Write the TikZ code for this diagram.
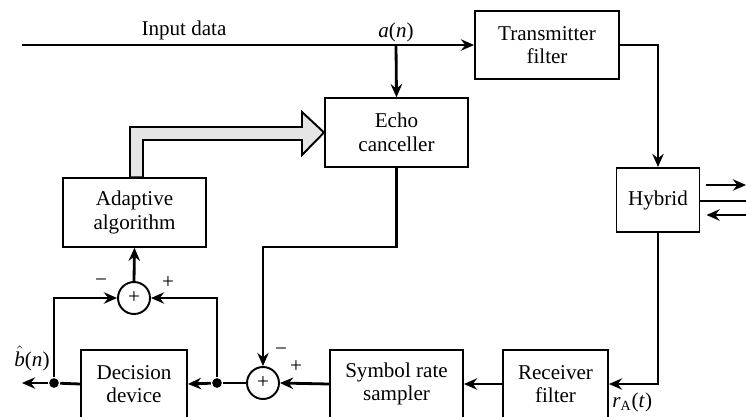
\documentclass[tikz,border=0pt]{standalone}
\usepackage{fontspec}
\setmainfont{Liberation Serif}
\usetikzlibrary{arrows.meta,positioning,calc}

\begin{document}
\begin{tikzpicture}[x=0.02cm, y=-0.02cm, font=\fontsize{12}{13.5}\selectfont,
  line width=1.6pt, >={Stealth[length=7.5pt,width=6.5pt,inset=2.5pt]}]
\tikzset{blk/.style={draw, line width=1.1pt, align=center, minimum height=1.37cm, inner sep=2pt},
  sum/.style={circle, draw, line width=1.1pt, minimum size=0.64cm, inner sep=0pt},
  dot/.style={circle, fill, inner sep=0pt, minimum size=5.5pt},
  sign/.style={inner sep=0pt}}
\useasboundingbox (0,0) rectangle (746,416);
\node[blk, minimum width=2.88cm] (tx) at (547,45) {Transmitter\\filter};
\node[blk, minimum width=2.86cm] (echo) at (396.5,132.5) {Echo\\canceller};
\node[blk, minimum width=1.66cm, minimum height=1.28cm] (hyb) at (658,200) {Hybrid};
\node[blk, minimum width=2.86cm] (adapt) at (134.5,212.5) {Adaptive\\algorithm};
\node[blk, minimum width=2.1cm] (rx) at (555.5,384) {Receiver\\filter};
\node[blk, minimum width=2.66cm] (samp) at (396.5,384) {Symbol rate\\sampler};
\node[blk, minimum width=2.12cm] (dec) at (134,384) {Decision\\device};
\node[sum] (s1) at (263,383) {+};
\node[sum] (s2) at (134,298) {+};
\node[dot] (d1) at (217,383) {};
\node[dot] (d2) at (54,383) {};
\coordinate (in) at (22,45);
\coordinate (br) at (396,45);
\coordinate (out) at (22,383);
\coordinate (ek) at (263,247);
\coordinate (lo1) at (746,185);
\coordinate (lo2) at (746,201);
\coordinate (li) at (746,215);

\node[anchor=base] (inlab) at (184,35) {Input data};
\node[anchor=base] (alab) at (396,37) {\textit{a}(\textit{n})};
\node[anchor=base west, inner sep=0pt] (rlab) at (611,407) {\textit{r}\textsubscript{A}(\textit{t})};
\node[anchor=base west, inner sep=0pt] (blab) at (13,366) {$\hat{\hbox{\itshape b}}$(\textit{n})};
\node[sign] at (281,352) {−};
\node[sign] at (296,367) {+};
\node[sign] at (101,283) {−};
\node[sign] at (168,283) {+};

\draw (in) -- (br);
\draw[->] (br) -- (tx.west);
\draw[->] (br) -- (echo.north);
\draw[->] (tx.east) -| (hyb.north);
\draw[->] (hyb.south) |- (rx.east);
\draw[->] (rx.west) -- (samp.east);
\draw[->] (samp.west) -- (s1.east);
\draw[->] (echo.south) |- (ek) -- (s1.north);
\draw (s1.west) -- (d1);
\draw[->] (d1) -- (dec.east);
\draw (dec.west) -- (d2);
\draw[->] (d2) -- (out);
\draw[->] (d1) |- (s2.east);
\draw[->] (d2) |- (s2.west);
\draw[->] (s2.north) -- (adapt.south);
\draw[->] ($(hyb.east)+(6,-15)$) -- (lo1);
\draw (hyb.east |- lo2) -- (lo2);
\draw[->] (li) -- ($(hyb.east)+(6,15)$);
\draw[line width=1.1pt, fill=gray!20] ($(adapt.north)+(-4.5,0)$) |- (302,127) -- (302,112)
  -- (echo.west) -- (302,155) -- (302,140) -| ($(adapt.north)+(8.5,0)$) -- cycle;
\end{tikzpicture}
\end{document}
